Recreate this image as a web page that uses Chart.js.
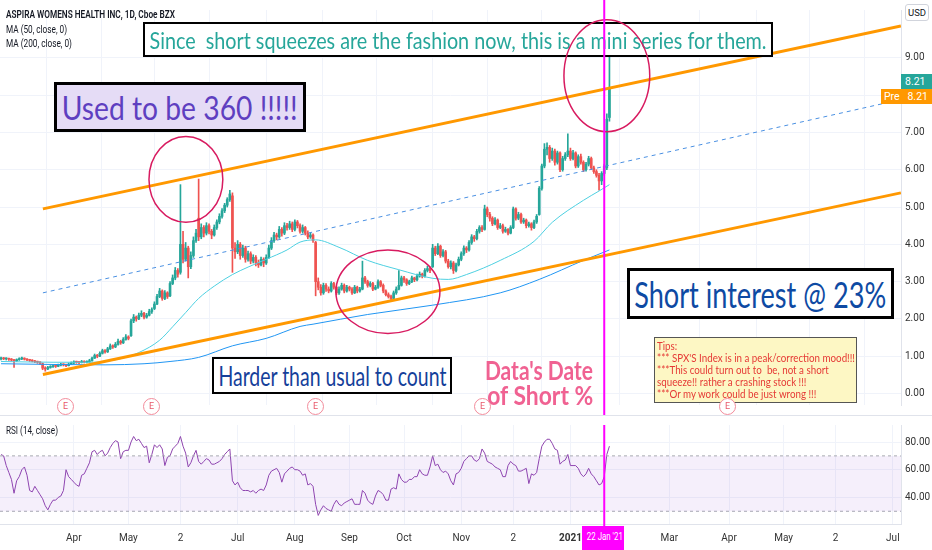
<!DOCTYPE html>
<html>
<head>
<meta charset="utf-8">
<title>ASPIRA WOMENS HEALTH INC, 1D, Cboe BZX</title>
<script src="https://cdn.jsdelivr.net/npm/chart.js@4.4.1/dist/chart.umd.min.js"></script>
<style>
  html, body { margin: 0; padding: 0; background: #fff; }
  #wrap { position: relative; width: 932px; height: 550px; overflow: hidden;
          font-family: Roboto, "Open Sans", sans-serif; color: #131722; }
  #wrap canvas { position: absolute; left: 0; }
  #priceCv { top: 0; }
  #overCv { top: 0; pointer-events: none; z-index: 3; }
  #rsiCv { top: 415px; }
  .lbl { position: absolute; white-space: nowrap; font-size: 11px; line-height: 13px;
         transform-origin: left center; z-index: 2; }
  .box { position: absolute; box-sizing: border-box; border: 2px solid #000; background: #fff;
         display: flex; align-items: center; justify-content: center; z-index: 2; }
  .box span, .note span { display: inline-block; white-space: nowrap;
         font-family: Lato, "Open Sans", sans-serif; transform-origin: center; }
  .note { position: absolute; width: 160px; text-align: center; z-index: 2; }
  .earn { position: absolute; top: 398px; width: 17px; height: 17px; box-sizing: border-box;
          border: 1px solid #f28b9a; border-radius: 50%; background: #fff; color: #e8596b;
          font-size: 9px; line-height: 15px; text-align: center; z-index: 4; }
  .tag { position: absolute; height: 15px; font-size: 10.5px; line-height: 15px; color: #fff; z-index: 4; }
  #dateTag { position: absolute; left: 582px; top: 526px; width: 42px; height: 24px; background: #ff00ff;
             color: #fff; font-size: 10px; line-height: 22px; text-align: center; z-index: 4; overflow: visible; }
  #dateTag span { display: inline-block; white-space: nowrap; transform-origin: center; }
</style>
</head>
<body>
<div id="wrap">
  <canvas id="priceCv" width="932" height="415"></canvas>
  <canvas id="overCv"></canvas>
  <canvas id="rsiCv" width="932" height="135"></canvas>

  <div class="lbl" style="left:6px;top:8px;font-weight:600;" data-w="169">ASPIRA WOMENS HEALTH INC, 1D, Cboe BZX</div>
  <div class="lbl" style="left:6px;top:23px;" data-w="61">MA (50, close, 0)</div>
  <div class="lbl" style="left:6px;top:37px;" data-w="66">MA (200, close, 0)</div>
  <div class="lbl" style="left:6px;top:424px;" data-w="52">RSI (14, close)</div>

  <div class="box" style="left:143px;top:22px;width:630px;height:35px;">
    <span style="font-size:23px;color:#26a69a;" data-w="617">Since&nbsp; short squeezes are the fashion now, this is a mini series for them.</span>
  </div>
  <div class="box" style="left:54px;top:82px;width:252px;height:50px;border-width:3px;background:#e5dcf6;">
    <span style="font-size:32px;color:#5e3fc0;" data-w="236">Used to be 360 !!!!!</span>
  </div>
  <div class="box" style="left:627px;top:268px;width:267px;height:51px;border-width:3px;">
    <span style="font-size:36px;color:#0e4aa3;" data-w="252">Short interest @ 23%</span>
  </div>
  <div class="box" style="left:212px;top:357px;width:240px;height:37px;">
    <span style="font-size:26px;color:#15409a;" data-w="228">Harder than usual to count</span>
  </div>
  <div class="note" style="left:459px;top:356px;">
    <span style="font-size:26px;font-weight:700;color:#f06292;line-height:28px;" data-w="108">Data's Date</span>
  </div>
  <div class="note" style="left:460px;top:381px;">
    <span style="font-size:26px;font-weight:700;color:#f06292;line-height:28px;" data-w="106">of Short %</span>
  </div>
  <div style="position:absolute;left:654px;top:337px;width:203px;height:66px;box-sizing:border-box;border:1px solid #555;background:#fdf7c4;z-index:2;"></div>
  <div class="lbl" style="left:657px;top:340px;line-height:12px;color:#e53935;font-family:Lato,'Open Sans',sans-serif;transform-origin:left top;display:inline-block;z-index:3;" data-w="198">Tips:<br>*** SPX'S Index is in a peak/correction mood!!!<br>***This could turn out to&nbsp; be, not a short<br>squeeze!! rather a crashing stock !!!<br>***Or my work could be just wrong !!!</div>

  <div class="earn" style="left:57px;">E</div>
  <div class="earn" style="left:143px;">E</div>
  <div class="earn" style="left:307px;">E</div>
  <div class="earn" style="left:474px;">E</div>
  <div class="earn" style="left:719px;">E</div>

  <div style="position:absolute;left:905px;top:4px;width:24px;height:17px;box-sizing:border-box;border:1px solid #d1d4dc;border-radius:3px;font-size:9.5px;line-height:15px;text-align:center;background:#fff;">USD</div>
  <div class="tag" style="left:901px;top:74px;width:31px;background:#26a69a;padding-left:4px;box-sizing:border-box;">8.21</div>
  <div class="tag" style="left:881px;top:89px;width:51px;background:#ff9800;box-sizing:border-box;padding-left:3px;">Pre&nbsp;&nbsp;&nbsp;8.21</div>
  <div style="position:absolute;left:0;top:415px;width:932px;height:1px;background:#e0e3eb;"></div>
  <div id="dateTag"><span data-w="36">22 Jan '21</span></div>
</div>

<script>
// ---- daily candles, index 0 = 20 Feb 2020, index 232 = 22 Jan 2021 ----
const opens = [
  0.93,0.95,0.93,0.94,0.92,0.90,0.88,0.91,0.93,0.95,
  0.92,0.90,0.89,0.87,0.85,0.84,0.80,0.68,0.66,0.70,
  0.72,0.74,0.73,0.76,0.78,0.77,0.75,0.79,0.82,0.85,
  0.84,0.83,0.86,0.84,0.85,0.88,0.95,1.02,1.00,1.08,
  1.15,1.12,1.20,1.28,1.25,1.32,1.40,1.36,1.45,1.52,
  1.55,1.95,2.05,2.00,2.10,2.15,2.05,2.10,2.20,2.28,
  2.40,2.60,2.75,2.55,2.70,2.62,2.95,3.10,3.30,3.25,
  4.00,3.60,3.90,3.40,3.70,4.10,4.70,4.20,4.45,4.30,
  4.50,4.35,4.25,4.45,4.60,4.75,4.90,5.05,5.20,5.30,
  3.90,3.80,4.00,3.70,3.90,3.60,3.75,3.55,3.65,3.50,
  3.45,3.60,3.50,3.65,3.90,4.10,4.25,4.20,4.40,4.30,
  4.50,4.45,4.55,4.40,4.60,4.50,4.35,4.45,4.30,4.20,
  4.25,4.05,3.00,2.85,2.70,2.90,2.80,2.75,2.95,2.85,
  2.70,2.80,2.90,2.75,2.85,2.80,2.70,2.85,2.75,2.80,
  3.10,3.00,2.90,2.95,2.80,2.85,3.00,2.90,2.75,2.65,
  2.60,2.55,2.70,2.80,2.90,3.10,3.05,2.95,3.00,3.10,
  3.05,3.15,3.20,3.15,3.30,3.35,3.40,3.90,3.75,3.95,
  3.70,3.80,3.55,3.40,3.50,3.30,3.45,3.60,3.75,3.90,
  3.85,4.05,4.20,4.15,4.35,4.45,4.40,4.95,4.80,4.70,
  4.55,4.65,4.45,4.50,4.35,4.40,4.30,4.45,4.95,4.70,
  4.80,4.60,4.65,4.50,4.55,4.45,4.60,4.80,5.50,6.10,
  6.55,6.60,6.30,6.50,6.20,6.45,6.00,6.30,6.40,6.50,
  6.30,6.45,6.10,6.35,6.20,6.00,6.15,6.30,6.05,5.95,
  5.85,5.70,5.90,6.05,7.40
];
const highs = [
  0.98,0.97,0.96,0.95,0.94,0.92,0.93,0.96,0.98,0.96,
  0.94,0.92,0.91,0.89,0.87,0.86,0.82,0.72,0.73,0.75,
  0.77,0.76,0.79,0.81,0.80,0.79,0.82,0.85,0.88,0.87,
  0.86,0.89,0.88,0.88,0.92,0.98,1.06,1.05,1.12,1.19,
  1.18,1.24,1.33,1.31,1.37,1.46,1.43,1.50,1.58,1.55,
  2.00,2.12,2.08,2.16,2.22,2.18,2.15,2.26,2.30,2.46,
  2.66,2.82,2.78,2.76,2.73,3.00,3.18,3.38,3.35,5.60,
  4.35,4.05,3.95,3.80,4.20,4.40,5.75,4.55,4.50,4.58,
  4.55,4.40,4.52,4.66,4.82,4.96,5.10,5.25,5.45,5.38,
  4.05,4.10,4.05,3.98,3.95,3.82,3.80,3.72,3.70,3.58,
  3.66,3.64,3.72,3.98,4.18,4.32,4.30,4.48,4.45,4.58,
  4.56,4.62,4.60,4.66,4.64,4.55,4.52,4.48,4.36,4.32,
  4.28,4.08,3.10,2.92,2.96,2.95,2.86,3.00,2.98,2.88,
  2.86,2.96,2.94,2.90,2.88,2.84,2.90,2.88,2.85,3.55,
  3.14,3.04,3.00,2.98,2.90,3.05,3.03,2.94,2.78,2.70,
  2.64,2.75,2.86,3.30,3.15,3.14,3.08,3.04,3.15,3.12,
  3.20,3.26,3.23,3.35,3.42,3.40,4.00,3.95,4.02,3.98,
  3.86,3.84,3.60,3.56,3.54,3.50,3.66,3.80,3.96,3.94,
  4.10,4.26,4.24,4.40,4.50,4.50,5.05,5.00,4.86,4.74,
  4.72,4.68,4.56,4.54,4.46,4.42,4.50,5.00,4.98,4.86,
  4.84,4.70,4.68,4.60,4.58,4.65,4.80,5.55,6.15,6.70,
  6.72,6.65,6.58,6.55,6.50,6.48,6.36,6.46,6.96,6.58,
  6.52,6.48,6.40,6.42,6.24,6.20,6.36,6.34,6.10,6.00,
  5.90,5.95,6.15,7.50,9.05
];
const lows = [
  0.90,0.91,0.90,0.89,0.87,0.70,0.86,0.89,0.91,0.90,
  0.88,0.86,0.85,0.83,0.81,0.78,0.64,0.60,0.64,0.68,
  0.70,0.70,0.72,0.74,0.74,0.72,0.74,0.78,0.80,0.81,
  0.80,0.82,0.82,0.82,0.84,0.87,0.94,0.96,0.99,1.06,
  1.08,1.10,1.18,1.21,1.23,1.30,1.32,1.34,1.43,1.44,
  1.53,1.90,1.94,1.98,2.06,2.00,2.02,2.08,2.15,2.25,
  2.38,2.57,2.50,2.52,2.55,2.60,2.92,3.05,3.12,3.20,
  3.50,3.55,3.10,3.35,3.65,4.05,4.10,4.15,4.20,4.25,
  4.28,4.15,4.22,4.40,4.55,4.70,4.85,5.00,5.15,3.25,
  3.62,3.75,3.60,3.65,3.52,3.55,3.48,3.50,3.42,3.38,
  3.42,3.40,3.46,3.62,3.86,4.05,4.12,4.16,4.22,4.26,
  4.38,4.40,4.34,4.36,4.44,4.30,4.30,4.25,4.15,4.16,
  4.05,2.62,2.78,2.64,2.66,2.74,2.70,2.72,2.80,2.65,
  2.66,2.77,2.70,2.72,2.75,2.66,2.68,2.70,2.72,2.78,
  2.95,2.85,2.86,2.76,2.78,2.82,2.86,2.70,2.62,2.56,
  2.50,2.53,2.66,2.78,2.88,2.98,2.90,2.92,2.97,3.00,
  3.02,3.12,3.10,3.12,3.26,3.24,3.38,3.70,3.72,3.65,
  3.66,3.50,3.36,3.34,3.22,3.26,3.42,3.56,3.70,3.78,
  3.82,4.00,4.08,4.12,4.30,4.34,4.38,4.74,4.62,4.50,
  4.52,4.40,4.42,4.30,4.32,4.25,4.28,4.42,4.65,4.66,
  4.56,4.56,4.44,4.46,4.38,4.42,4.56,4.78,5.45,6.05,
  6.40,6.20,6.25,6.12,6.15,5.95,5.96,6.25,6.35,6.25,
  6.26,6.05,6.06,6.15,5.95,5.96,6.10,6.00,5.90,5.80,
  5.45,5.60,5.85,6.00,7.30
];
const closes = [
  0.95,0.93,0.94,0.92,0.90,0.88,0.91,0.93,0.95,0.92,
  0.90,0.89,0.87,0.85,0.84,0.82,0.68,0.66,0.70,0.72,
  0.74,0.73,0.76,0.78,0.77,0.75,0.79,0.82,0.85,0.84,
  0.83,0.86,0.84,0.85,0.88,0.95,1.02,1.00,1.08,1.15,
  1.12,1.20,1.28,1.25,1.32,1.40,1.36,1.45,1.52,1.48,
  1.95,2.05,2.00,2.10,2.15,2.05,2.10,2.20,2.25,2.40,
  2.60,2.75,2.55,2.70,2.60,2.95,3.10,3.30,3.20,4.00,
  3.60,3.90,3.40,3.70,4.10,4.30,4.20,4.45,4.30,4.50,
  4.35,4.25,4.45,4.60,4.75,4.90,5.05,5.20,5.35,3.90,
  3.80,4.00,3.70,3.90,3.60,3.75,3.55,3.65,3.50,3.45,
  3.60,3.50,3.65,3.90,4.10,4.25,4.20,4.40,4.30,4.50,
  4.45,4.55,4.40,4.60,4.50,4.35,4.45,4.30,4.20,4.25,
  4.10,3.00,2.85,2.70,2.90,2.80,2.75,2.95,2.85,2.70,
  2.80,2.90,2.75,2.85,2.80,2.70,2.85,2.75,2.80,3.10,
  3.00,2.90,2.95,2.80,2.85,3.00,2.90,2.75,2.65,2.60,
  2.55,2.70,2.80,2.90,3.10,3.05,2.95,3.00,3.10,3.05,
  3.15,3.20,3.15,3.30,3.35,3.30,3.90,3.75,3.95,3.70,
  3.80,3.55,3.40,3.50,3.30,3.45,3.60,3.75,3.90,3.85,
  4.05,4.20,4.15,4.35,4.45,4.40,4.95,4.80,4.70,4.55,
  4.65,4.45,4.50,4.35,4.40,4.30,4.45,4.95,4.70,4.80,
  4.60,4.65,4.50,4.55,4.45,4.60,4.75,5.50,6.10,6.55,
  6.60,6.30,6.50,6.20,6.45,6.00,6.30,6.40,6.50,6.30,
  6.45,6.10,6.35,6.20,6.00,6.15,6.30,6.05,5.95,5.85,
  5.70,5.90,6.10,7.35,8.21
];

// moving averages at a few bars
const ma50Idx = [0,20,35,45,53,61,66,71,76,82,89,95,102,110,115,121,130,141,153,166,172,179,192,205,212,224,230,234];
const ma50Val = [0.86,0.84,0.84,0.92,1.10,1.43,1.79,2.17,2.55,2.88,3.19,3.39,3.60,3.85,4.06,4.12,3.92,3.57,3.32,3.09,3.06,3.19,3.57,4.08,4.59,5.18,5.43,5.60];
const ma200Idx = [0,20,40,55,65,76,89,102,115,120,141,166,192,207,224,234];
const ma200Val = [0.80,0.78,0.77,0.80,0.86,0.97,1.28,1.48,1.80,1.86,2.12,2.37,2.70,3.06,3.57,3.85];

// RSI(14) per bar
const rsiVals = [
  71,70,63,58,53,43,52,55,60,62,
  56,45,44,48,45,42,39,34,31,35,
  38,38,40,41,45,60,55,53,51,49,
  48,56,57,61,65,73,74,71,73,74,
  70,72,76,79,81,80,68,73,74,74,
  80,84,81,82,79,76,77,65,71,78,
  76,78,75,63,69,70,75,77,79,84,
  77,72,62,65,70,74,66,64,66,68,
  67,64,64,65,66,68,71,73,75,52,
  49,51,47,45,45,45,44,45,43,45,
  46,45,49,56,59,60,61,58,51,57,
  59,61,62,60,60,59,56,57,49,50,
  48,35,27,31,34,32,31,30,35,38,
  35,34,36,37,38,39,35,35,35,45,
  43,38,36,35,41,45,44,42,38,38,
  46,47,46,57,53,51,51,53,53,55,
  55,60,57,56,56,62,70,63,64,60,
  58,59,57,52,49,57,58,61,66,68,
  70,70,67,66,68,75,72,66,65,64,
  62,61,60,55,55,63,66,64,63,59,
  59,60,61,50,57,56,58,68,77,80,
  82,82,79,75,74,64,66,67,71,63,
  63,63,61,57,55,57,61,57,55,52,
  49,50,55,71,77
];

// trend channel drawn on the chart: [startBar, endBar] and prices
const channelBars = [16.1, 346.1];
const upperLine = [4.95, 9.85];
const lowerLine = [0.51, 5.38];
const midLine = [2.70, 7.88];
const rsiBands = [70, 30];

// axes
const tickIdx = [28, 49, 69, 91, 113, 134, 155, 177, 197, 219, 257, 280, 301, 321, 343];
const tickLabels = ['Apr', 'May', '2', 'Jul', 'Aug', 'Sep', 'Oct', 'Nov', '2', '2021', 'Mar', 'Apr', 'May', '2', 'Jul'];
const priceTicks = [0, 1, 2, 3, 4, 5, 6, 7, 8, 9];
const rsiTicks = [40, 60, 80];
const markIndex = 232; // 22 Jan '21

// ellipses drawn over the chart (bar, price, half width in bars, half height in price)
const circleNotes = [
  { i: 71.1, p: 5.74, ri: 14.2, rp: 1.15 },
  { i: 148.8, p: 2.73, ri: 20.0, rp: 1.12 },
  { i: 233.0, p: 8.52, ri: 16.5, rp: 1.50 },
];

const UP = '#26a69a', DOWN = '#ef5350', GRID = '#f0f3fa';
const X_MIN = -0.4, X_MAX = 346.14;

Chart.defaults.font.family = "Roboto, 'Open Sans', sans-serif";
Chart.defaults.font.size = 10;
Chart.defaults.color = '#131722';
Chart.defaults.animation = false;

const candleColors = closes.map((c, i) => c >= opens[i] ? UP : DOWN);
const wickData = closes.map((c, i) => ({ x: i, y: [lows[i], highs[i]] }));
const bodyData = closes.map((c, i) => ({ x: i, y: [opens[i], c] }));
const seg = (vals) => channelBars.map((b, k) => ({ x: b, y: vals[k] }));

// overlay canvas for the ellipses and the marker line (drawn above the text boxes)
const over = document.getElementById('overCv');
const dpr = window.devicePixelRatio || 1;
over.width = 932 * dpr; over.height = 415 * dpr;
over.style.width = '932px'; over.style.height = '415px';

const overlayPlugin = {
  id: 'overlay',
  afterDraw(chart) {
    const ctx = over.getContext('2d');
    ctx.setTransform(dpr, 0, 0, dpr, 0, 0);
    ctx.clearRect(0, 0, 932, 415);
    const xs = chart.scales.x, ys = chart.scales.y;
    ctx.strokeStyle = '#d81b60';
    ctx.lineWidth = 1.5;
    circleNotes.forEach(c => {
      const cx = xs.getPixelForValue(c.i), cy = ys.getPixelForValue(c.p);
      const rx = xs.getPixelForValue(c.i + c.ri) - cx;
      const ry = cy - ys.getPixelForValue(c.p + c.rp);
      ctx.beginPath();
      ctx.ellipse(cx, cy, rx, ry, 0, 0, Math.PI * 2);
      ctx.stroke();
    });
    const mx = xs.getPixelForValue(markIndex);
    ctx.strokeStyle = '#ff00ff';
    ctx.lineWidth = 2;
    ctx.beginPath();
    ctx.moveTo(mx, 0);
    ctx.lineTo(mx, 415);
    ctx.stroke();
  }
};

const markerPlugin = {
  id: 'marker',
  afterDatasetsDraw(chart) {
    const { ctx, chartArea } = chart;
    const x = chart.scales.x.getPixelForValue(markIndex);
    ctx.save();
    ctx.strokeStyle = '#ff00ff';
    ctx.lineWidth = 2;
    ctx.beginPath();
    ctx.moveTo(x, chartArea.top);
    ctx.lineTo(x, chartArea.bottom + 2);
    ctx.stroke();
    ctx.restore();
  }
};

const xGridOpts = {
  type: 'linear', min: X_MIN, max: X_MAX, offset: false,
  afterBuildTicks(scale) { scale.ticks = tickIdx.map(v => ({ value: v })); },
  grid: { color: GRID, drawTicks: false },
};

// ─── PRICE PANE ─────────────────────────────────────────
new Chart(document.getElementById('priceCv'), {
  type: 'bar',
  data: {
    datasets: [
      { type: 'line', data: seg(upperLine), borderColor: '#ff9800', borderWidth: 3, pointRadius: 0, order: 1 },
      { type: 'line', data: seg(lowerLine), borderColor: '#ff9800', borderWidth: 3, pointRadius: 0, order: 1 },
      { type: 'line', data: seg(midLine), borderColor: '#4a90e2', borderWidth: 1, borderDash: [4, 4], pointRadius: 0, order: 1 },
      { type: 'line', data: ma50Idx.map((x, k) => ({ x, y: ma50Val[k] })), borderColor: '#4dd0e1', borderWidth: 1,
        pointRadius: 0, cubicInterpolationMode: 'monotone', order: 2 },
      { type: 'line', data: ma200Idx.map((x, k) => ({ x, y: ma200Val[k] })), borderColor: '#2196f3', borderWidth: 1,
        pointRadius: 0, cubicInterpolationMode: 'monotone', order: 2 },
      { label: 'wick', data: wickData, backgroundColor: candleColors, barThickness: 1, grouped: false,
        borderWidth: 0, order: 4 },
      { label: 'body', data: bodyData, backgroundColor: candleColors, barThickness: 2, grouped: false,
        borderWidth: 0, minBarLength: 1, order: 3 },
    ]
  },
  options: {
    responsive: false,
    maintainAspectRatio: false,
    layout: { padding: 0 },
    plugins: { legend: { display: false }, tooltip: { enabled: false } },
    scales: {
      x: Object.assign({}, xGridOpts, {
        ticks: { display: false },
        border: { display: false },
        afterFit(scale) { scale.height = 0; },
      }),
      y: {
        position: 'right', min: -0.306, max: 10.281,
        afterBuildTicks(scale) { scale.ticks = priceTicks.map(v => ({ value: v })); },
        afterFit(scale) { scale.width = 31; },
        ticks: { callback: v => v.toFixed(2), padding: 4, color: '#333' },
        grid: { color: GRID, drawTicks: false },
        border: { display: true, color: '#e0e3eb' },
      }
    }
  },
  plugins: [overlayPlugin]
});

// ─── RSI PANE ───────────────────────────────────────────
new Chart(document.getElementById('rsiCv'), {
  type: 'line',
  data: {
    datasets: [
      { data: [{ x: X_MIN, y: rsiBands[0] }, { x: X_MAX, y: rsiBands[0] }], borderColor: '#a7a9b2', borderWidth: 1,
        borderDash: [3, 3], pointRadius: 0, fill: '+1', backgroundColor: 'rgba(149,80,214,0.09)' },
      { data: [{ x: X_MIN, y: rsiBands[1] }, { x: X_MAX, y: rsiBands[1] }], borderColor: '#a7a9b2', borderWidth: 1,
        borderDash: [3, 3], pointRadius: 0, fill: false },
      { data: rsiVals.map((v, i) => ({ x: i, y: v })), borderColor: '#8e44ad', borderWidth: 1, pointRadius: 0, fill: false },
    ]
  },
  options: {
    responsive: false,
    maintainAspectRatio: false,
    layout: { padding: 0 },
    plugins: { legend: { display: false }, tooltip: { enabled: false } },
    scales: {
      x: Object.assign({}, xGridOpts, {
        afterFit(scale) { scale.height = 26; },
        ticks: {
          autoSkip: false, maxRotation: 0, padding: 8, color: '#333',
          callback: (v, i) => tickLabels[i],
          font: ctx => ({ size: 10, weight: ctx.tick && ctx.tick.value === 219 ? 'bold' : 'normal' }),
        },
        border: { display: true, color: '#e0e3eb' },
      }),
      y: {
        position: 'right', min: 20.8, max: 92.3,
        afterBuildTicks(scale) { scale.ticks = rsiTicks.map(v => ({ value: v })); },
        afterFit(scale) { scale.width = 31; },
        ticks: { callback: v => v.toFixed(2), padding: 4, color: '#333' },
        grid: { color: GRID, drawTicks: false },
        border: { display: true, color: '#e0e3eb' },
      }
    }
  },
  plugins: [markerPlugin]
});

// squeeze the Calibri-like annotation text to the widths seen on the chart
function fitTexts() {
  document.querySelectorAll('[data-w]').forEach(el => {
    el.style.transform = 'none';
    const w = el.getBoundingClientRect().width;
    if (w > 0) el.style.transform = 'scaleX(' + (+el.dataset.w / w) + ')';
  });
}
fitTexts();
if (document.fonts && document.fonts.ready) document.fonts.ready.then(fitTexts);
</script>
</body>
</html>
